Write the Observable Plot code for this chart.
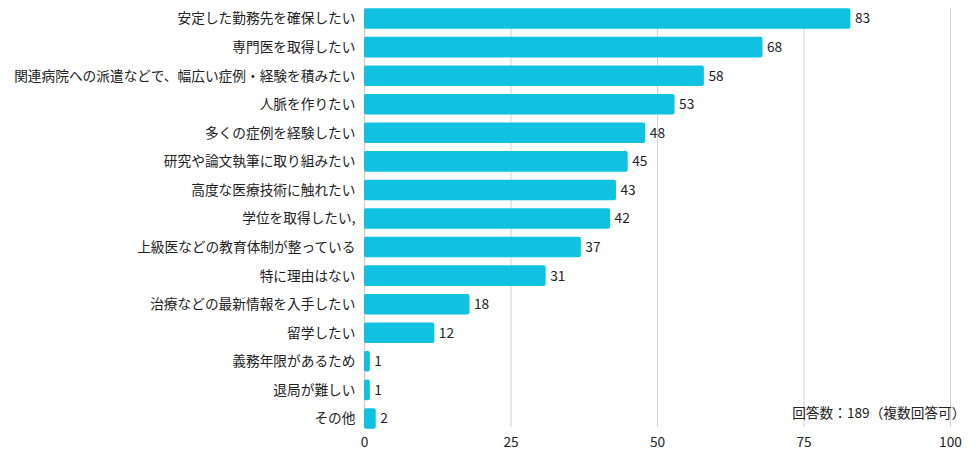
<!DOCTYPE html>
<html>
<head>
<meta charset="utf-8">
<script src="https://cdn.jsdelivr.net/npm/d3@7"></script>
<script src="https://cdn.jsdelivr.net/npm/@observablehq/plot@0.6"></script>
<style>
  html, body { margin: 0; padding: 0; background: #fff; }
  #chart svg { display: block; font-family: "Noto Sans CJK JP", "Noto Sans", sans-serif; }
</style>
</head>
<body>
<div id="chart"></div>
<script>
// 回答項目（上から順）
const reasons = [
  "安定した勤務先を確保したい",
  "専門医を取得したい",
  "関連病院への派遣などで、幅広い症例・経験を積みたい",
  "人脈を作りたい",
  "多くの症例を経験したい",
  "研究や論文執筆に取り組みたい",
  "高度な医療技術に触れたい",
  "学位を取得したい,",
  "上級医などの教育体制が整っている",
  "特に理由はない",
  "治療などの最新情報を入手したい",
  "留学したい",
  "義務年限があるため",
  "退局が難しい",
  "その他"
];
// 回答数
const counts = [83, 68, 58, 53, 48, 45, 43, 42, 37, 31, 18, 12, 1, 1, 2];
const xTicks = [0, 25, 50, 75, 100];
const note = "回答数：189（複数回答可）";

const data = reasons.map((r, i) => ({reason: r, count: counts[i]}));

const chart = Plot.plot({
  width: 976,
  height: 459,
  marginLeft: 364,
  marginRight: 26,
  marginTop: 0.3,
  marginBottom: 22.3,
  style: {fontSize: "13.7px", color: "#222", background: "#fff"},
  x: {domain: [0, 100], ticks: xTicks, tickSize: 0, tickPadding: 0, label: null},
  y: {domain: reasons, padding: 0.28, round: false, tickSize: 0, tickPadding: 9, label: null},
  marks: [
    Plot.gridX(xTicks.filter(d => d > 0), {stroke: "#d0d0d0", strokeOpacity: 1, strokeWidth: 1, insetTop: 7.7, insetBottom: 9.7}),
    Plot.ruleX([0], {stroke: "#cfcfcf", strokeWidth: 1.5, insetTop: 7.7, insetBottom: 9.7}),
    Plot.barX(data, {y: "reason", x: "count", fill: "#10c1e0", rx: 2}),
    Plot.text(data, {y: "reason", x: "count", text: d => String(d.count), textAnchor: "start", dx: 4, fill: "#222", fontSize: 13.7}),
    Plot.text([note], {frameAnchor: "bottom-right", text: d => d, dx: 15, dy: -19, fill: "#222", fontSize: 13.7})
  ]
});
document.getElementById("chart").appendChild(chart);
</script>
</body>
</html>
